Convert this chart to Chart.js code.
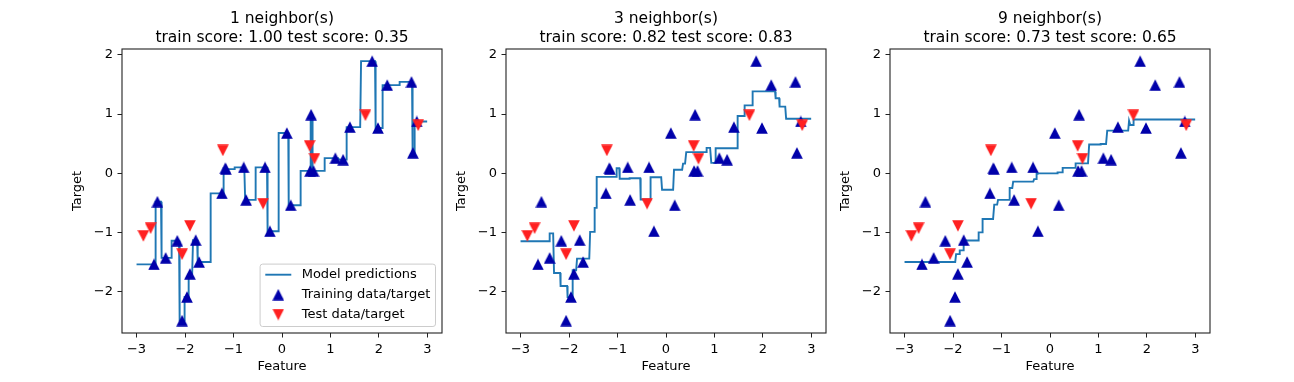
<!DOCTYPE html>
<html>
<head>
<meta charset="utf-8">
<script src="https://cdn.jsdelivr.net/npm/chart.js@4.4.0/dist/chart.umd.min.js"></script>
<style>
  html, body { margin: 0; padding: 0; background: #fff; }
  #wrap { position: relative; width: 1294px; height: 382px; overflow: hidden; }
  canvas { position: absolute; top: 0; }
</style>
</head>
<body>
<div id="wrap">
  <canvas id="c1" width="460" height="382" style="left:52px"></canvas>
  <canvas id="c2" width="460" height="382" style="left:436px"></canvas>
  <canvas id="c3" width="460" height="382" style="left:820px"></canvas>
</div>
<script>
// training points (blue ^) and test points (red v)
const trainX = [-2.64, -2.57, -2.40, -2.16, -2.06, -1.96, -1.90, -1.78, -1.71, -1.24,
                -1.17, -1.16, -0.79, -0.74, -0.35, -0.25, 0.10, 0.18, 0.58, 0.60,
                0.65, 1.10, 1.26, 1.40, 1.86, 1.98, 2.17, 2.67, 2.70, 2.78];
const trainY = [-1.54, -0.48, -1.43, -1.14, -2.49, -2.09, -1.70, -1.13, -1.50, -0.34,
                0.085, 0.07, 0.10, -0.45, 0.10, -0.98, 0.68, -0.54, 0.04, 0.99,
                0.04, 0.255, 0.23, 0.78, 1.895, 0.765, 1.49, 1.545, 0.345, 0.875];
const testX = [-2.86, -2.71, -2.06, -1.90, -1.22, -0.39, 0.57, 0.67, 1.72, 2.81];
const testY = [-1.06, -0.93, -1.37, -0.89, 0.385, -0.515, 0.46, 0.245, 0.98, 0.81];

const neighbors = [1, 3, 9];
const trainScores = ["1.00", "0.82", "0.73"];
const testScores = ["0.35", "0.83", "0.65"];
const xTicks = [-3, -2, -1, 0, 1, 2, 3];
const yTicks = [-2, -1, 0, 1, 2];

const FONT = "'DejaVu Sans', sans-serif";
Chart.defaults.font.family = FONT;
Chart.defaults.color = '#000';

// model predictions = mean of the k nearest training targets
function knnPredict(x, k) {
    const d = trainX.map((v, i) => [Math.abs(v - x), trainY[i]]);
    d.sort((a, b) => a[0] - b[0]);
    let s = 0;
    for (let i = 0; i < k; i++) s += d[i][1];
    return s / k;
}

const lineX = [];
for (let i = 0; i < 1000; i++) lineX.push(-3 + 6 * i / 999);

function triangle(color, down) {
    const c = document.createElement('canvas');
    c.width = 12; c.height = 12;
    const g = c.getContext('2d');
    g.fillStyle = color;
    g.beginPath();
    if (down) { g.moveTo(0.2, 0.2); g.lineTo(11.8, 0.2); g.lineTo(6, 11.8); }
    else { g.moveTo(6, 0.2); g.lineTo(11.8, 11.8); g.lineTo(0.2, 11.8); }
    g.closePath();
    g.fill();
    return c;
}
const upTri = triangle('#0000aa', false);
const downTri = triangle('#ff2020', true);

function fmt(v) {
    return v < 0 ? '\u2212' + Math.abs(v) : String(v);
}

const framePlugin = {
    id: 'frame',
    afterDatasetsDraw(chart) {
        const a = chart.chartArea, ctx = chart.ctx;
        ctx.save();
        ctx.strokeStyle = '#222';
        ctx.lineWidth = 1.1;
        ctx.strokeRect(a.left, a.top, a.right - a.left, a.bottom - a.top);
        ctx.restore();
    }
};

const legendPlugin = {
    id: 'boxLegend',
    afterDraw(chart, args, opts) {
        if (!opts.show) return;
        const ctx = chart.ctx, a = chart.chartArea;
        const sets = chart.data.datasets;
        ctx.save();
        ctx.font = "13px " + FONT;
        const tw = Math.max(...sets.map(d => ctx.measureText(d.label).width));
        const w = tw + 46.8, h = 62.4;
        const x0 = a.right - 6.5 - w, y0 = a.bottom - 6.5 - h;
        const r = 2.6;
        ctx.beginPath();
        ctx.moveTo(x0 + r, y0);
        ctx.arcTo(x0 + w, y0, x0 + w, y0 + h, r);
        ctx.arcTo(x0 + w, y0 + h, x0, y0 + h, r);
        ctx.arcTo(x0, y0 + h, x0, y0, r);
        ctx.arcTo(x0, y0, x0 + w, y0, r);
        ctx.closePath();
        ctx.fillStyle = 'rgba(255,255,255,0.8)';
        ctx.fill();
        ctx.strokeStyle = '#cccccc';
        ctx.lineWidth = 1;
        ctx.stroke();
        sets.forEach((d, i) => {
            const cy = y0 + 10.6 + i * 19.95;
            if (d.showLine) {
                ctx.strokeStyle = d.borderColor;
                ctx.lineWidth = d.borderWidth;
                ctx.beginPath();
                ctx.moveTo(x0 + 5.2, cy);
                ctx.lineTo(x0 + 31.2, cy);
                ctx.stroke();
            } else {
                ctx.drawImage(d.pointStyle, x0 + 18.2 - 6, cy - 6);
            }
            ctx.fillStyle = '#000';
            ctx.textBaseline = 'middle';
            ctx.textAlign = 'left';
            ctx.fillText(d.label, x0 + 41.6, cy);
        });
        ctx.restore();
    }
};

neighbors.forEach((k, p) => {
    new Chart(document.getElementById('c' + (p + 1)), {
        type: 'scatter',
        data: {
            datasets: [{
                label: 'Model predictions',
                data: lineX.map(x => ({ x: x, y: knnPredict(x, k) })),
                showLine: true,
                borderColor: '#1f77b4',
                borderWidth: 1.9,
                pointRadius: 0,
                order: 3
            }, {
                label: 'Training data/target',
                data: trainX.map((x, i) => ({ x: x, y: trainY[i] })),
                pointStyle: upTri,
                pointRadius: 6,
                order: 2
            }, {
                label: 'Test data/target',
                data: testX.map((x, i) => ({ x: x, y: testY[i] })),
                pointStyle: downTri,
                pointRadius: 6,
                order: 1
            }]
        },
        options: {
            responsive: false,
            animation: false,
            devicePixelRatio: 1,
            events: [],
            layout: { padding: { left: 0, right: 70, top: 0, bottom: 0 } },
            plugins: {
                legend: { display: false },
                tooltip: { enabled: false },
                title: {
                    display: true,
                    fullSize: false,
                    text: [k + ' neighbor(s)', 'train score: ' + trainScores[p] + ' test score: ' + testScores[p]],
                    color: '#000',
                    font: { size: 15.5, weight: 'normal', lineHeight: '19px' },
                    padding: { top: 9.4, bottom: 1.6 }
                },
                boxLegend: { show: p === 0 }
            },
            scales: {
                x: {
                    type: 'linear',
                    min: -3.3,
                    max: 3.3,
                    afterBuildTicks: s => { s.ticks = xTicks.map(v => ({ value: v })); },
                    afterFit: s => { s.height = 49; },
                    grid: { drawOnChartArea: false, drawTicks: true, tickLength: 4.5, tickColor: '#222', tickWidth: 1 },
                    border: { display: false },
                    ticks: { color: '#000', font: { size: 13 }, padding: 4.2, maxRotation: 0, autoSkip: false, callback: v => fmt(v) },
                    title: { display: true, text: 'Feature', color: '#000', font: { size: 13, lineHeight: 1.2 }, padding: { top: 0, bottom: 7.7 } }
                },
                y: {
                    type: 'linear',
                    min: -2.7,
                    max: 2.1,
                    afterBuildTicks: s => { s.ticks = yTicks.map(v => ({ value: v })); },
                    afterFit: s => { s.width = 70; },
                    grid: { drawOnChartArea: false, drawTicks: true, tickLength: 4.5, tickColor: '#222', tickWidth: 1 },
                    border: { display: false },
                    ticks: { color: '#000', font: { size: 13 }, padding: 4.5, autoSkip: false, callback: v => fmt(v) },
                    title: { display: true, text: 'Target', color: '#000', font: { size: 13, lineHeight: 1.2 }, padding: { top: 17.9, bottom: 0 } }
                }
            }
        },
        plugins: [framePlugin, legendPlugin]
    });
});
</script>
</body>
</html>
